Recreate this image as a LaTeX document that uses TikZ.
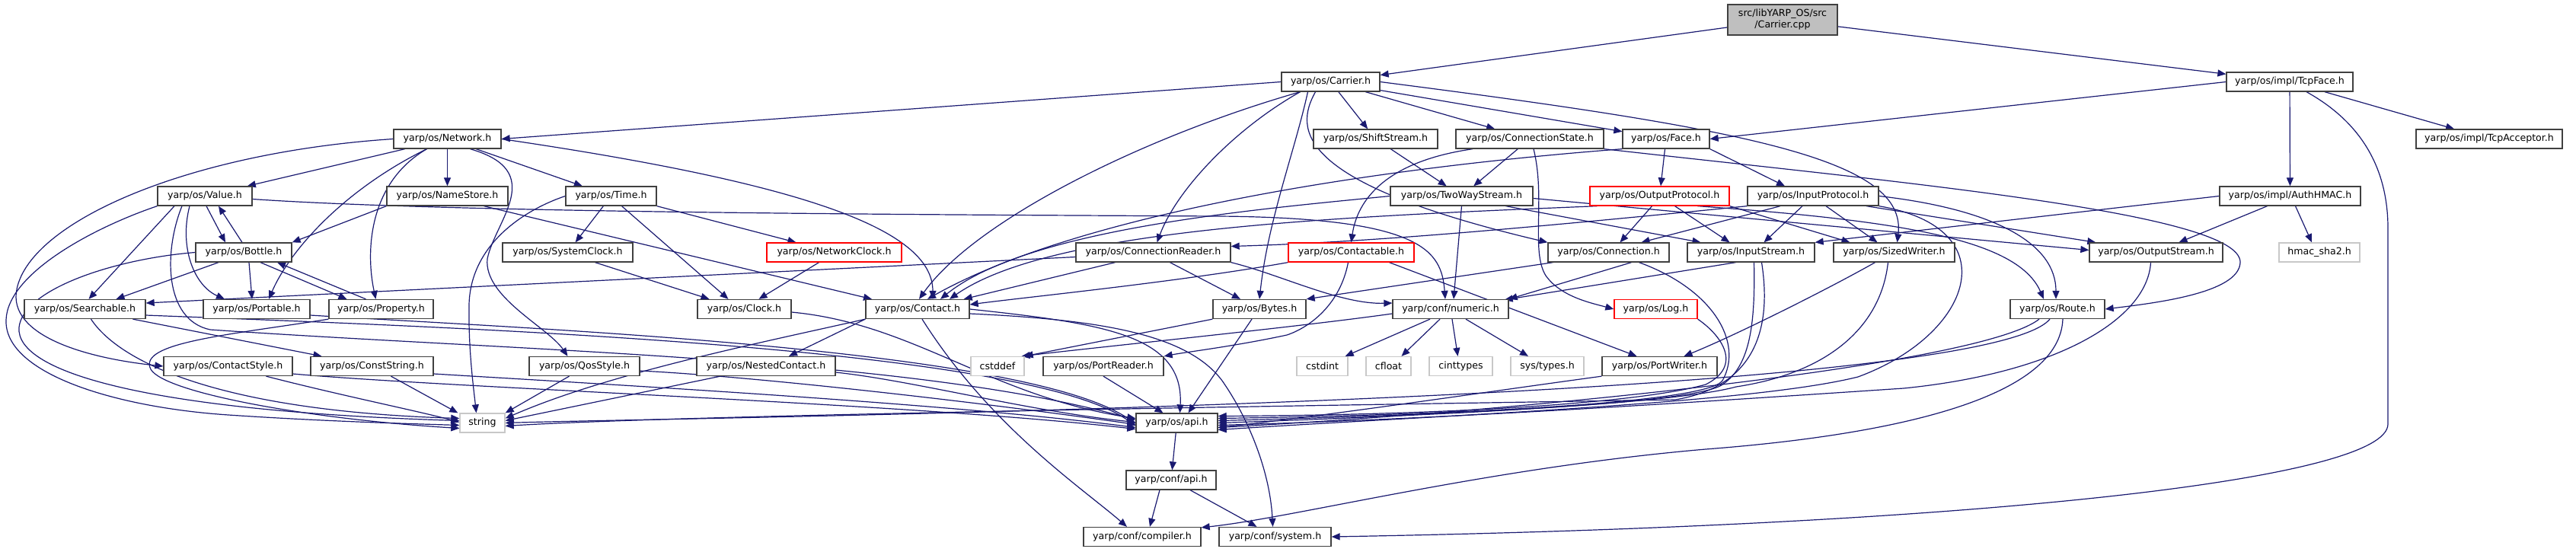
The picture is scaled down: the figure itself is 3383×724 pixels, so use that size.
\documentclass[tikz,border=0pt]{standalone}
\usepackage{fontspec}
\setmainfont{DejaVu Sans}
\usetikzlibrary{arrows.meta,backgrounds}
\definecolor{edgec}{HTML}{191970}
\definecolor{boxc}{HTML}{404040}
\definecolor{grayc}{HTML}{BFBFBF}
\definecolor{lgrayc}{HTML}{C8C8C8}
\newcommand\nodefont{\fontsize{12.6}{15}\selectfont}
\tikzset{
  nb/.style={draw=boxc, line width=1.3pt, fill=white, minimum height=25pt, inner sep=0pt, font=\nodefont, text=black},
  ng/.style={nb, draw=lgrayc},
  nr/.style={nb, draw=red},
  dep/.style={draw=edgec, line width=1.2pt, -{Triangle[length=11pt,width=9pt]}},
}
\begin{document}
\begin{tikzpicture}[x=1pt,y=1pt]
\useasboundingbox (0,0) rectangle (3383,-724);
% row 0
\node[nb, fill=grayc, minimum width=144pt, minimum height=40pt, align=center] (cpp) at (2341,-26) {src/libYARP\_OS/src\\/Carrier.cpp};
% row 1
\node[nb, minimum width=129pt] (carrier) at (1747.5,-107.5) {yarp/os/Carrier.h};
\node[nb, minimum width=166pt] (tcpface) at (3007,-107.5) {yarp/os/impl/TcpFace.h};
% row 2
\node[nb, minimum width=141pt] (network) at (587.5,-182.5) {yarp/os/Network.h};
\node[nb, minimum width=163pt] (shift) at (1806.5,-182.5) {yarp/os/ShiftStream.h};
\node[nb, minimum width=194pt] (cstate) at (2009,-182.5) {yarp/os/ConnectionState.h};
\node[nb, minimum width=114pt] (face) at (2188,-182.5) {yarp/os/Face.h};
\node[nb, minimum width=192pt] (tcpacc) at (3269,-182.5) {yarp/os/impl/TcpAcceptor.h};
% row 3
\node[nb, minimum width=124pt] (value) at (269,-257.5) {yarp/os/Value.h};
\node[nb, minimum width=159pt] (namestore) at (587.5,-257.5) {yarp/os/NameStore.h};
\node[nb, minimum width=119pt] (time) at (802.5,-257.5) {yarp/os/Time.h};
\node[nb, minimum width=187pt] (twoway) at (1919.5,-257.5) {yarp/os/TwoWayStream.h};
\node[nr, minimum width=183pt] (outproto) at (2179.5,-257.5) {yarp/os/OutputProtocol.h};
\node[nb, minimum width=172pt] (inproto) at (2381,-257.5) {yarp/os/InputProtocol.h};
\node[nb, minimum width=185pt] (authhmac) at (3007.5,-257.5) {yarp/os/impl/AuthHMAC.h};
% row 4
\node[nb, minimum width=126pt] (bottle) at (320,-331.5) {yarp/os/Bottle.h};
\node[nb, minimum width=171pt] (sysclock) at (745.5,-331.5) {yarp/os/SystemClock.h};
\node[nr, minimum width=177pt] (netclock) at (1095.5,-331.5) {yarp/os/NetworkClock.h};
\node[nb, minimum width=203pt] (connreader) at (1514.5,-331.5) {yarp/os/ConnectionReader.h};
\node[nr, minimum width=165pt] (contactable) at (1774.5,-331.5) {yarp/os/Contactable.h};
\node[nb, minimum width=159pt] (connection) at (2112.5,-331.5) {yarp/os/Connection.h};
\node[nb, minimum width=167pt] (instream) at (2299.5,-331.5) {yarp/os/InputStream.h};
\node[nb, minimum width=159pt] (sizedwriter) at (2487.5,-331.5) {yarp/os/SizedWriter.h};
\node[nb, minimum width=175pt] (outstream) at (2831.5,-331.5) {yarp/os/OutputStream.h};
\node[ng, minimum width=106pt] (hmac) at (3046,-331.5) {hmac\_sha2.h};
% row 5
\node[nb, minimum width=159pt] (searchable) at (111.5,-406) {yarp/os/Searchable.h};
\node[nb, minimum width=140pt] (portable) at (337,-406) {yarp/os/Portable.h};
\node[nb, minimum width=137pt] (property) at (500.5,-406) {yarp/os/Property.h};
\node[nb, minimum width=123pt] (clock) at (977.5,-406) {yarp/os/Clock.h};
\node[nb, minimum width=136pt] (contact) at (1205,-406) {yarp/os/Contact.h};
\node[nb, minimum width=122pt] (bytes) at (1654,-406) {yarp/os/Bytes.h};
\node[nb, minimum width=152pt] (numeric) at (1905,-406) {yarp/conf/numeric.h};
\node[nr, minimum width=109pt] (log) at (2174.5,-406) {yarp/os/Log.h};
\node[nb, minimum width=124pt] (route) at (2702,-406) {yarp/os/Route.h};
% row 6
\node[nb, minimum width=169pt] (contactstyle) at (299.5,-481) {yarp/os/ContactStyle.h};
\node[nb, minimum width=161pt] (conststring) at (488.5,-481) {yarp/os/ConstString.h};
\node[nb, minimum width=145pt] (qosstyle) at (767.5,-481) {yarp/os/QosStyle.h};
\node[nb, minimum width=182pt] (nested) at (1006,-481) {yarp/os/NestedContact.h};
\node[ng, minimum width=70pt] (cstddef) at (1310,-481) {cstddef};
\node[nb, minimum width=158pt] (portreader) at (1449,-481) {yarp/os/PortReader.h};
\node[ng, minimum width=67pt] (cstdint) at (1736.5,-481) {cstdint};
\node[ng, minimum width=59pt] (cfloat) at (1823.5,-481) {cfloat};
\node[ng, minimum width=83pt] (cinttypes) at (1918.5,-481) {cinttypes};
\node[ng, minimum width=96pt] (systypes) at (2032,-481) {sys/types.h};
\node[nb, minimum width=151pt] (portwriter) at (2179.5,-481) {yarp/os/PortWriter.h};
% row 7
\node[ng, minimum width=59pt] (string) at (633.5,-555.5) {string};
\node[nb, minimum width=107pt] (osapi) at (1545.5,-555.5) {yarp/os/api.h};
% row 8
\node[nb, minimum width=118pt] (confapi) at (1538,-630.5) {yarp/conf/api.h};
% row 9
\node[nb, minimum width=154pt] (compiler) at (1500,-705) {yarp/conf/compiler.h};
\node[nb, minimum width=147pt] (system) at (1674.5,-705) {yarp/conf/system.h};

\begin{scope}[on background layer]
% Carrier.cpp
\draw[dep] (cpp) -- (carrier);
\draw[dep] (cpp) -- (tcpface);
% Carrier.h
\draw[dep] (carrier.west) -- (network.east);
\draw[dep] (carrier) -- (shift);
\draw[dep] (carrier) -- (cstate);
\draw[dep] (carrier) -- (face);
\draw[dep] (carrier.east) .. controls (2300,-170) and (2505,-210) .. ([xshift=4pt]sizedwriter.north);
\draw[dep] ([xshift=-20pt]carrier.south) .. controls (1700,-170) and (1700,-240) .. (connection.north west);
\draw[dep] ([xshift=-40pt]carrier.south) .. controls (1620,-170) and (1545,-250) .. ([xshift=5pt]connreader.north);
\draw[dep] ([xshift=-40pt]carrier.south) .. controls (1500,-180) and (1280,-290) .. ([xshift=2pt]contact.north);
\draw[dep] ([xshift=-30pt]carrier.south) .. controls (1700,-200) and (1665,-290) .. (bytes.north);
% TcpFace.h
\draw[dep] (tcpface.west) -- (face.east);
\draw[dep] (tcpface) -- (authhmac);
\draw[dep] (tcpface) -- (tcpacc);
\draw[dep] ([xshift=22pt]tcpface.south) .. controls (3100,-160) and (3136,-220) .. (3136,-300) -- (3136,-557) .. controls (3136,-630) and (2600,-690) .. (system.east);
% Network.h
\draw[dep] (network) -- (value);
\draw[dep] (network) -- (namestore);
\draw[dep] (network) -- (time);
\draw[dep] ([xshift=-27pt]network.south) .. controls (450,-250) and (380,-330) .. ([xshift=16pt]portable.north);
\draw[dep] ([xshift=-27pt]network.south) .. controls (484,-240) and (480,-330) .. ([xshift=-7pt]property.north);
\draw[dep] ([xshift=30pt]network.south) .. controls (720,-225) and (650,-290) .. (640,-340) .. controls (635,-390) and (720,-430) .. ([xshift=-22pt]qosstyle.north);
\draw[dep] (network.east) .. controls (1050,-240) and (1225,-300) .. ([xshift=20pt]contact.north);
\draw[dep] (network.west) .. controls (250,-200) and (40,-290) .. (22,-380) .. controls (10,-440) and (110,-470) .. (contactstyle.west);
% ShiftStream / ConnectionState
\draw[dep] (shift) -- (twoway);
\draw[dep] (cstate) -- (twoway);
\draw[dep] ([xshift=-75pt]cstate.south) .. controls (1800,-215) and (1780,-280) .. (contactable.north);
\draw[dep] (cstate.south east) .. controls (2500,-240) and (2945,-280) .. (2942,-345) .. controls (2940,-385) and (2830,-398) .. (route.east);
\draw[dep] ([xshift=5pt]cstate.south) .. controls (2030,-260) and (2010,-330) .. (2030,-362) .. controls (2050,-390) and (2090,-398) .. (log.west);
% Face.h
\draw[dep] (face) -- (outproto);
\draw[dep] (face.south east) -- ([xshift=-37pt]inproto.north);
\draw[dep] (face.south west) .. controls (1750,-225) and (1400,-290) .. ([xshift=13pt]contact.north);
% Value.h
\draw[dep] ([xshift=2pt]value.south) -- ([xshift=-24pt]bottle.north);
\draw[dep] ([xshift=-40pt]value.south) -- ([xshift=5pt]searchable.north);
\draw[dep] ([xshift=-20pt]value.south) .. controls (235,-325) and (255,-375) .. ([xshift=-42pt]portable.north);
\draw[dep] ([yshift=-4pt]value.east) .. controls (600,-280) and (1250,-282) .. (1600,-284) .. controls (1870,-286) and (1893,-330) .. ([xshift=-7pt]numeric.north);
\draw[dep] ([xshift=-30pt]value.south) .. controls (215,-330) and (215,-420) .. (276,-433) .. controls (700,-462) and (1200,-470) .. ([yshift=4pt]osapi.west);
\draw[dep] (value.south west) .. controls (120,-300) and (10,-360) .. (8,-420) .. controls (5,-490) and (150,-535) .. (300,-545) .. controls (420,-553) and (520,-556) .. ([yshift=-3pt]string.west);
% NameStore.h
\draw[dep] (namestore.south west) -- (bottle.north east);
\draw[dep] ([xshift=48pt]namestore.south) -- ([xshift=-60pt]contact.north);
% Time.h
\draw[dep] (time) -- (sysclock);
\draw[dep] (time.south east) -- ([xshift=-50pt]netclock.north);
\draw[dep] ([xshift=14pt]time.south) -- ([xshift=-21pt]clock.north);
\draw[dep] (time.west) .. controls (690,-275) and (618,-320) .. (616,-400) .. controls (615,-460) and (622,-510) .. ([xshift=-8pt]string.north);
% TwoWayStream.h
\draw[dep] ([xshift=58pt]twoway.south) -- ([xshift=-66pt]instream.north);
\draw[dep] ([yshift=-3pt]twoway.east) -- ([yshift=3pt]outstream.west);
\draw[dep] (twoway.south) -- ([xshift=4pt]numeric.north);
\draw[dep] (twoway.west) .. controls (1650,-275) and (1350,-300) .. ([xshift=30pt]contact.north);
% OutputProtocol.h
\draw[dep] ([xshift=-10pt]outproto.south) -- ([xshift=15pt]connection.north);
\draw[dep] ([xshift=20pt]outproto.south) -- ([xshift=-28pt]instream.north);
\draw[dep] (outproto.south east) -- ([xshift=-58pt]sizedwriter.north);
\draw[dep] ([xshift=50pt]outproto.south) .. controls (2500,-290) and (2650,-315) .. ([xshift=-18pt]route.north);
\draw[dep] ([xshift=10pt]outproto.south west) .. controls (1750,-285) and (1380,-300) .. ([xshift=42pt]contact.north);
% InputProtocol.h
\draw[dep] ([xshift=-14pt]inproto.south) -- ([xshift=17pt]instream.north);
\draw[dep] ([xshift=17pt]inproto.south) -- ([xshift=-22pt]sizedwriter.north);
\draw[dep] ([xshift=-43pt]inproto.south) -- ([xshift=43pt]connection.north);
\draw[dep] ([xshift=70pt]inproto.south) -- ([xshift=9pt]outstream.north west);
\draw[dep] (inproto.east) .. controls (2620,-275) and (2700,-320) .. ([xshift=-2pt]route.north);
\draw[dep] (inproto.south west) .. controls (2000,-300) and (1800,-318) .. ([yshift=8pt]connreader.east);
\draw[dep] (inproto.south east) .. controls (2640,-300) and (2590,-440) .. (2440,-495) .. controls (2300,-530) and (1900,-545) .. ([yshift=-9pt]osapi.east);
% AuthHMAC.h
\draw[dep] (authhmac.west) -- (instream.north east);
\draw[dep] ([xshift=-30pt]authhmac.south) -- ([xshift=30pt]outstream.north);
\draw[dep] ([xshift=7pt]authhmac.south) -- ([xshift=-10pt]hmac.north);
% Bottle.h
\draw[dep] ([xshift=-2pt]bottle.north) -- ([xshift=18pt]value.south);
\draw[dep] ([xshift=-33pt]bottle.south) -- ([xshift=41pt]searchable.north);
\draw[dep] ([xshift=7pt]bottle.south) -- ([xshift=-6pt]portable.north);
\draw[dep] ([xshift=22pt]bottle.south) -- ([xshift=-45pt]property.north);
\draw[dep] (bottle.west) .. controls (150,-340) and (30,-380) .. (25,-430) .. controls (20,-490) and (200,-540) .. ([yshift=3pt]string.west);
% Property.h
\draw[dep] ([xshift=-20pt]property.north) -- ([xshift=44pt]bottle.south);
\draw[dep] (property.south west) .. controls (300,-440) and (180,-450) .. (198,-485) .. controls (215,-515) and (400,-550) .. ([yshift=-7pt]string.west);
% clocks
\draw[dep] ([xshift=36pt]sysclock.south) -- ([xshift=-46pt]clock.north);
\draw[dep] ([xshift=-20pt]netclock.south) -- ([xshift=19pt]clock.north);
\draw[dep] ([yshift=-4pt]clock.east) .. controls (1200,-425) and (1300,-520) .. ([yshift=6pt]osapi.west);
% ConnectionReader.h
\draw[dep] ([yshift=-6pt]connreader.west) -- ([yshift=8pt]searchable.east);
\draw[dep] ([xshift=22pt]connreader.south) -- ([xshift=-25pt]bytes.north);
\draw[dep] ([xshift=-50pt]connreader.south) -- ([xshift=-8pt]contact.north east);
\draw[dep] (connreader.south east) .. controls (1680,-360) and (1760,-400) .. ([yshift=8pt]numeric.west);
% Contactable.h
\draw[dep] (contactable.south west) .. controls (1550,-370) and (1350,-390) .. ([yshift=6pt]contact.east);
\draw[dep] ([xshift=-4pt]contactable.south) .. controls (1760,-400) and (1720,-430) .. (1690,-440) .. controls (1620,-455) and (1560,-462) .. (portreader.north east);
\draw[dep] ([xshift=50pt]contactable.south) -- ([xshift=-30pt]portwriter.north);
% Connection.h
\draw[dep] ([xshift=-73pt]connection.south) -- (bytes.north east);
\draw[dep] ([xshift=30pt]connection.south) -- (numeric.north east);
\draw[dep] ([xshift=40pt]connection.south) .. controls (2250,-380) and (2290,-450) .. (2262,-500) .. controls (2240,-530) and (1900,-545) .. ([yshift=6pt]osapi.east);
% InputStream.h
\draw[dep] ([xshift=-20pt]instream.south) -- ([xshift=-6pt,yshift=-1pt]numeric.north east);
\draw[dep] ([xshift=4pt]instream.south) .. controls (2305,-420) and (2300,-480) .. (2262,-505) .. controls (2230,-530) and (1900,-545) .. ([yshift=3pt]osapi.east);
\draw[dep] ([xshift=14pt]instream.south) .. controls (2330,-450) and (2290,-510) .. (2200,-525) .. controls (1700,-533) and (900,-545) .. ([yshift=-4pt]string.east);
% SizedWriter.h
\draw[dep] ([xshift=-25pt]sizedwriter.south) .. controls (2400,-380) and (2280,-440) .. ([xshift=32pt]portwriter.north);
\draw[dep] ([xshift=-8pt]sizedwriter.south) .. controls (2470,-430) and (2400,-490) .. (2280,-508) .. controls (2200,-530) and (1900,-545) .. (osapi.east);
% OutputStream.h
\draw[dep] ([xshift=-7pt]outstream.south) .. controls (2820,-420) and (2700,-490) .. (2500,-510) .. controls (2200,-530) and (1900,-550) .. ([yshift=-3pt]osapi.east);
% Searchable.h
\draw[dep] ([xshift=63pt]searchable.south) -- ([xshift=-66pt]conststring.north);
\draw[dep] ([xshift=8pt]searchable.south) .. controls (160,-480) and (300,-540) .. ([yshift=6pt]string.west);
\draw[dep] ([yshift=-8pt]searchable.east) .. controls (600,-430) and (1350,-455) .. ([yshift=-4pt]osapi.west);
% Portable.h
\draw[dep] ([yshift=-8pt]portable.east) .. controls (700,-432) and (1350,-458) .. ([yshift=-1pt]osapi.west);
% Contact.h
\draw[dep] (contact.south west) -- ([xshift=30pt]nested.north);
\draw[dep] ([xshift=6pt]contact.south) .. controls (1300,-560) and (1420,-640) .. ([xshift=-20pt]compiler.north);
\draw[dep] (contact.east) .. controls (1450,-425) and (1555,-440) .. ([xshift=4pt]osapi.north);
\draw[dep] ([yshift=-6pt]contact.east) .. controls (1450,-420) and (1560,-440) .. (1605,-500) .. controls (1640,-550) and (1668,-620) .. ([xshift=-3pt]system.north);
\draw[dep] (contact.south west) .. controls (1000,-450) and (800,-490) .. ([yshift=6pt]string.east);
% Bytes.h
\draw[dep] (bytes.south west) -- (cstddef.north east);
\draw[dep] ([xshift=-10pt]bytes.south) -- ([xshift=15pt]osapi.north);
% numeric.h
\draw[dep] ([yshift=-6pt]numeric.west) .. controls (1700,-430) and (1450,-455) .. ([xshift=-4pt]cstddef.north east);
\draw[dep] ([xshift=-27pt]numeric.south) -- ([xshift=-4pt]cstdint.north east);
\draw[dep] ([xshift=-14pt]numeric.south) -- ([xshift=17pt]cfloat.north);
\draw[dep] ([xshift=2pt]numeric.south) -- ([xshift=-4pt]cinttypes.north);
\draw[dep] ([xshift=20pt]numeric.south) -- ([xshift=-25pt]systypes.north);
% Log.h
\draw[dep] (log.south east) .. controls (2260,-440) and (2290,-480) .. (2240,-505) .. controls (2150,-530) and (1900,-545) .. ([yshift=9pt]osapi.east);
% Route.h
\draw[dep] ([xshift=7pt]route.south) .. controls (2705,-520) and (2500,-570) .. (2240,-590) .. controls (1950,-615) and (1700,-680) .. ([yshift=-1pt]compiler.north east);
\draw[dep] ([xshift=-24pt]route.south) .. controls (2600,-480) and (2000,-540) .. ([yshift=-6pt]osapi.east);
\draw[dep] ([xshift=-10pt]route.south) .. controls (2600,-530) and (900,-548) .. (string.east);
% row 6 to string/api
\draw[dep] ([xshift=50pt]contactstyle.south) .. controls (450,-520) and (550,-540) .. ([yshift=1pt]string.west);
\draw[dep] ([yshift=-10pt]contactstyle.east) .. controls (600,-510) and (1200,-530) .. ([yshift=-8pt]osapi.west);
\draw[dep] ([xshift=25pt]conststring.south) -- ([xshift=-2pt]string.north west);
\draw[dep] ([yshift=-10pt]conststring.east) .. controls (800,-505) and (1250,-530) .. ([yshift=-6pt]osapi.west);
\draw[dep] ([xshift=-20pt]qosstyle.south) -- (string.north east);
\draw[dep] ([yshift=-6pt]qosstyle.east) .. controls (1000,-495) and (1300,-530) .. ([yshift=-2pt]osapi.west);
\draw[dep] ([xshift=-60pt]nested.south) -- ([yshift=3pt]string.east);
\draw[dep] ([yshift=-8pt]nested.east) .. controls (1200,-500) and (1350,-540) .. ([yshift=1pt]osapi.west);
\draw[dep] (portreader.south) -- ([xshift=-18pt]osapi.north);
\draw[dep] (portwriter.south west) .. controls (1950,-515) and (1750,-545) .. ([yshift=-6pt]osapi.east);
% api chain
\draw[dep] (osapi) -- (confapi);
\draw[dep] ([xshift=-15pt]confapi.south) -- ([xshift=10pt]compiler.north);
\draw[dep] ([xshift=25pt]confapi.south) -- ([xshift=-24pt]system.north);
\end{scope}
\end{tikzpicture}
\end{document}
